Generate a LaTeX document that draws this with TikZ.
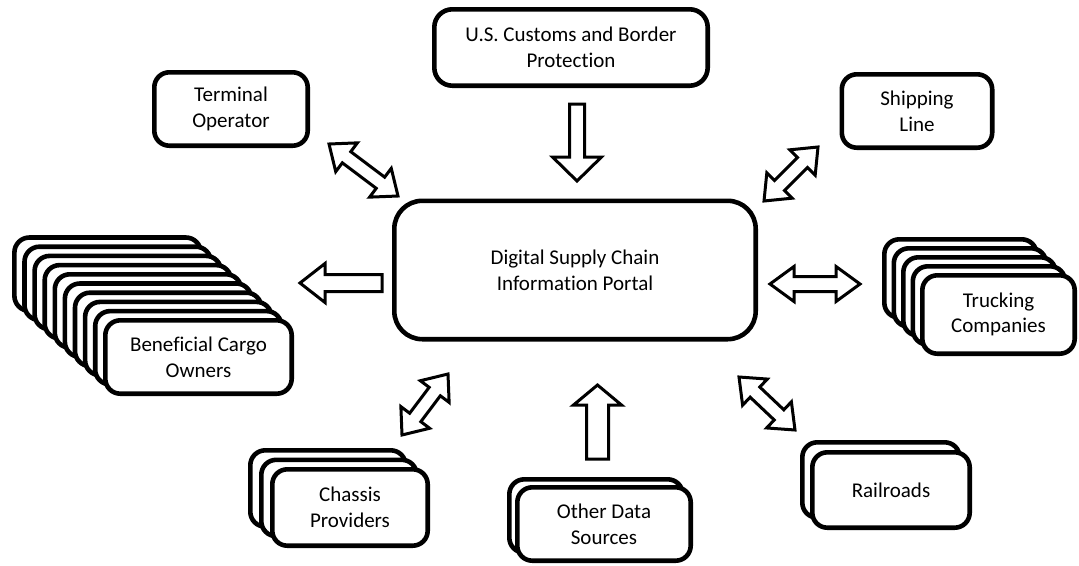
\documentclass[tikz,border=0pt]{standalone}
\usepackage{fontspec}
\setmainfont{Carlito}[Ligatures=NoCommon]
\usetikzlibrary{calc}
\begin{document}
\begin{tikzpicture}[x=1pt,y=-1pt,
  font=\fontsize{21}{25.6}\selectfont,
  box/.style={draw=black, line width=4.6pt, fill=white, rounded corners=15pt, inner sep=0pt, align=center},
  blk/.style={draw=black, line width=3pt, fill=white, line join=miter, miter limit=10},
  sarrow/.style n args={3}{to path={
    let \p1=($(\tikztotarget)!#3!(\tikztostart)$) in
    ($(\tikztostart)!#1!90:(\tikztotarget)$)
    -- ($(\p1)!#1!90:(\tikztotarget)$)
    -- ($(\p1)!#2!90:(\tikztotarget)$)
    -- (\tikztotarget)
    -- ($(\p1)!#2!-90:(\tikztotarget)$)
    -- ($(\p1)!#1!-90:(\tikztotarget)$)
    -- ($(\tikztostart)!#1!-90:(\tikztotarget)$)
    -- cycle}},
  darrow/.style n args={3}{to path={
    let \p1=($(\tikztostart)!#3!(\tikztotarget)$), \p2=($(\tikztotarget)!#3!(\tikztostart)$) in
    (\tikztostart)
    -- ($(\p1)!#2!90:(\tikztotarget)$)
    -- ($(\p1)!#1!90:(\tikztotarget)$)
    -- ($(\p2)!#1!90:(\tikztotarget)$)
    -- ($(\p2)!#2!90:(\tikztotarget)$)
    -- (\tikztotarget)
    -- ($(\p2)!#2!-90:(\tikztotarget)$)
    -- ($(\p2)!#1!-90:(\tikztotarget)$)
    -- ($(\p1)!#1!-90:(\tikztotarget)$)
    -- ($(\p1)!#2!-90:(\tikztotarget)$)
    -- cycle}}
]
\useasboundingbox (0,0) rectangle (1079,565);

% Beneficial Cargo Owners stack
\foreach \i in {9,8,...,1}
  \node[box, minimum width=186.4pt, minimum height=73.4pt] (bco\i) at ({198.5-10.1*\i},{357-9.2*\i}) {};
\node[box, minimum width=186.4pt, minimum height=73.4pt] (bco) at (198.5,357) {Beneficial Cargo\\Owners};

% Trucking stack
\foreach \i in {4,3,2,1}
  \node[box, minimum width=152.4pt, minimum height=78.4pt] (trk\i) at ({998.5-9.5*\i},{314.5-9*\i}) {};
\node[box, minimum width=152.4pt, minimum height=78.4pt] (trk) at (998.5,314.5) {Trucking\\Companies};

% Chassis stack
\foreach \i in {2,1}
  \node[box, minimum width=155.4pt, minimum height=76.4pt] (chs\i) at ({350-11*\i},{507.5-9.5*\i}) {};
\node[box, minimum width=155.4pt, minimum height=76.4pt] (chs) at (350,507.5) {Chassis\\Providers};

% Other data sources stack
\node[box, minimum width=173.4pt, minimum height=73.4pt] (ods1) at (596,516) {};
\node[box, minimum width=173.4pt, minimum height=73.4pt] (ods) at (604,524) {Other Data\\Sources};

% Railroads stack
\node[box, minimum width=157.4pt, minimum height=75.4pt] (rr1) at (881,480) {};
\node[box, minimum width=157.4pt, minimum height=75.4pt] (rr) at (891,490) {Railroads};

% Single boxes
\node[box, minimum width=153.4pt, minimum height=73.4pt] (term) at (231,109) {Terminal\\Operator};
\node[box, minimum width=150.4pt, minimum height=73.4pt] (ship) at (917,111) {Shipping\\Line};
\node[box, rounded corners=18pt, minimum width=273.4pt, minimum height=76.4pt] (cbp) at (571,47.5) {U.S. Customs and Border\\Protection};
\node[box, rounded corners=28pt, minimum width=361.4pt, minimum height=138.4pt] (portal) at (575,270) {Digital Supply Chain\\Information Portal};

% arrow end points
\coordinate (aCbpS) at (577,104);
\coordinate (aCbpE) at (577,181);
\coordinate (aBcoS) at (382,283);
\coordinate (aBcoE) at (300,283);
\coordinate (aTrkS) at (770,284);
\coordinate (aTrkE) at (860,284);
\coordinate (aOdsS) at (597.5,459);
\coordinate (aOdsE) at (597.5,385);
\coordinate (aTermS) at (329,144);
\coordinate (aTermE) at (398,196);
\coordinate (aShipS) at (764,201);
\coordinate (aShipE) at (818,147);
\coordinate (aChsS) at (402,435);
\coordinate (aChsE) at (448,374);
\coordinate (aRrS) at (739,377);
\coordinate (aRrE) at (795,430);

\draw[blk, sarrow={7.5pt}{24.5pt}{24pt}] (aCbpS) to (aCbpE);
\draw[blk, sarrow={8.5pt}{19.5pt}{25pt}] (aBcoS) to (aBcoE);
\draw[blk, darrow={7.5pt}{17.5pt}{24pt}] (aTrkS) to (aTrkE);
\draw[blk, sarrow={11pt}{24pt}{20pt}] (aOdsS) to (aOdsE);
\draw[blk, darrow={7pt}{18pt}{22pt}] (aTermS) to (aTermE);
\draw[blk, darrow={7pt}{18pt}{22pt}] (aShipS) to (aShipE);
\draw[blk, darrow={7pt}{18pt}{22pt}] (aChsS) to (aChsE);
\draw[blk, darrow={7pt}{18pt}{22pt}] (aRrS) to (aRrE);
\end{tikzpicture}
\end{document}
